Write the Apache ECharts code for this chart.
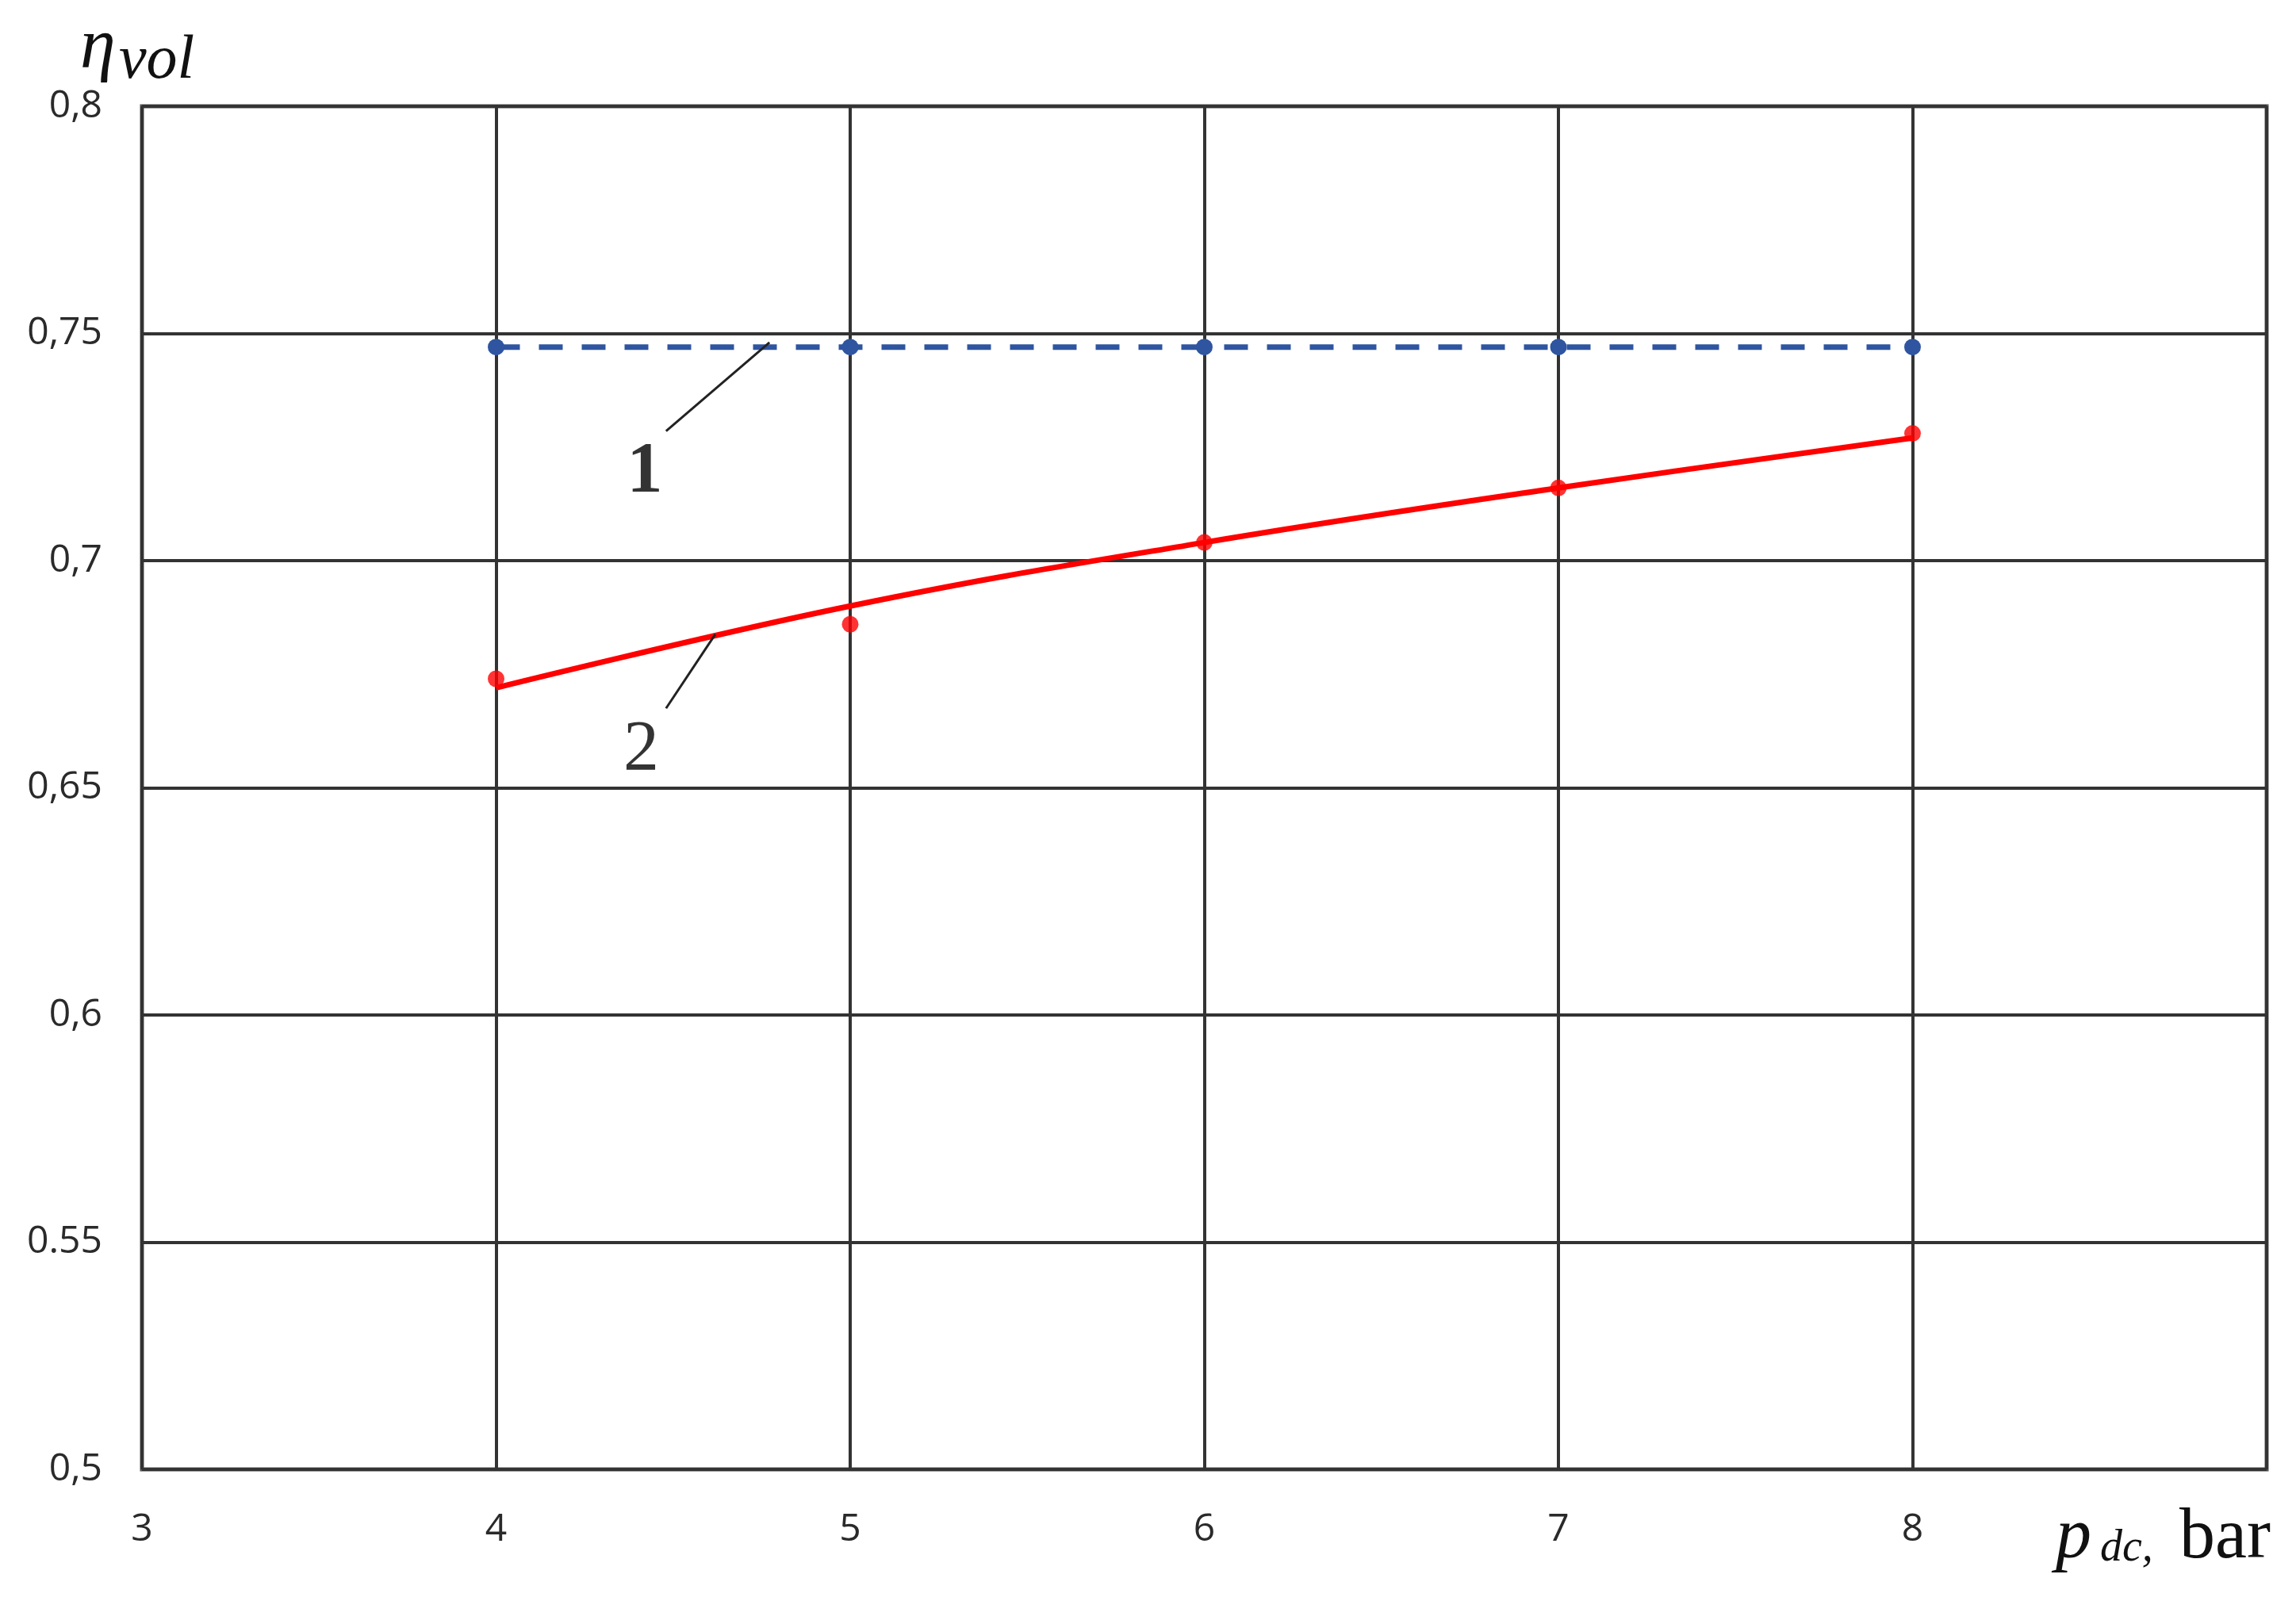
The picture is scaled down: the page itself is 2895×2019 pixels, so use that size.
<!DOCTYPE html>
<html>
<head>
<meta charset="utf-8">
<title>eta_vol vs p_dc</title>
<script src="https://cdn.jsdelivr.net/npm/echarts@6/dist/echarts.min.js"></script>
<style>
  html, body { margin: 0; padding: 0; background: #fff; }
  #chart { width: 2895px; height: 2019px; }
</style>
</head>
<body>
<div id="chart"></div>
<script>
// values
const pressure = [4, 5, 6, 7, 8];
const etaTheory = [0.747, 0.747, 0.747, 0.747, 0.747];     // curve 1
const etaMeasured = [0.674, 0.686, 0.704, 0.716, 0.728];   // curve 2, points
const etaTrend = [0.672, 0.690, 0.704, 0.716, 0.727];      // curve 2, fitted line

const xTickLabels = ['3', '4', '5', '6', '7', '8', ''];
const yTickLabels = ['0,5', '0.55', '0,6', '0,65', '0,7', '0,75', '0,8'];

// callout numbers and their leader lines (data coordinates)
const calloutNames = ['1', '2'];
const calloutPos = [[4.42, 0.7192], [4.41, 0.6581]];
const leader1 = [[4.48, 0.7285], [4.772, 0.748]];
const leader2 = [[4.48, 0.6675], [4.619, 0.6838]];

const zip = (xs, ys) => xs.map((x, i) => [x, ys[i]]);

const chart = echarts.init(document.getElementById('chart'));

const serif = '"Liberation Serif", "DejaVu Serif", serif';
const sans = '"Open Sans", "Noto Sans", sans-serif';

chart.setOption({
  animation: false,
  backgroundColor: '#fff',
  grid: {
    left: 179, right: 37, top: 134, bottom: 166,
    show: true, borderColor: '#555', borderWidth: 5
  },
  xAxis: {
    type: 'value', min: 3, max: 9, interval: 1,
    axisLine: { show: false },
    axisTick: { show: false },
    splitLine: { show: true, lineStyle: { color: '#333', width: 4 } },
    axisLabel: {
      margin: 52, fontSize: 48, color: '#2a2a2a', fontFamily: sans,
      formatter: v => xTickLabels[Math.round(v - 3)]
    }
  },
  yAxis: {
    type: 'value', min: 0.5, max: 0.8, interval: 0.05,
    axisLine: { show: false },
    axisTick: { show: false },
    splitLine: { show: true, lineStyle: { color: '#333', width: 4 } },
    axisLabel: {
      margin: 50, fontSize: 48, color: '#2a2a2a', fontFamily: sans,
      formatter: v => yTickLabels[Math.round((v - 0.5) / 0.05)]
    }
  },
  series: [
    {
      name: '1', type: 'line', data: zip(pressure, etaTheory),
      symbol: 'circle', symbolSize: 21,
      itemStyle: { color: '#2f55a0' },
      lineStyle: { color: '#2f55a0', width: 7, type: [30, 24] },
      z: 4
    },
    {
      name: '2 trend', type: 'line', data: zip(pressure, etaTrend),
      smooth: 0.4, showSymbol: false,
      lineStyle: { color: '#ff0000', width: 7 },
      z: 3
    },
    {
      name: '2', type: 'scatter', data: zip(pressure, etaMeasured),
      symbolSize: 21, itemStyle: { color: '#ff0000' },
      z: 5
    },
    {
      name: 'leader 1', type: 'line', data: leader1, showSymbol: false,
      lineStyle: { color: '#222', width: 3 }, z: 6
    },
    {
      name: 'leader 2', type: 'line', data: leader2, showSymbol: false,
      lineStyle: { color: '#222', width: 3 }, z: 6
    },
    {
      name: 'callouts', type: 'scatter', symbolSize: 1,
      itemStyle: { color: 'rgba(0,0,0,0)' },
      data: calloutPos.map((p, i) => ({
        value: p, name: calloutNames[i],
        label: { fontWeight: i === 0 ? 'bold' : 'normal' }
      })),
      label: {
        show: true, position: 'inside', formatter: '{b}',
        fontFamily: serif, fontSize: 90, color: '#000'
      },
      z: 6
    }
  ],
  graphic: [
    // y axis name: eta_vol
    { type: 'text', left: 101, top: 16, style: {
      text: 'η', font: 'italic 90px ' + serif, fill: '#111' } },
    { type: 'text', left: 150, top: 38, style: {
      text: 'vol', font: 'italic 78px ' + serif, fill: '#111' } },
    // x axis name: p_dc, bar
    { type: 'text', left: 2592, top: 1895, style: {
      text: 'p', font: 'italic 90px ' + serif, fill: '#111' } },
    { type: 'text', left: 2648, top: 1925, style: {
      text: 'dc,', font: 'italic 56px ' + serif, fill: '#111' } },
    { type: 'text', left: 2748, top: 1895, style: {
      text: 'bar', font: '90px ' + serif, fill: '#111' } }
  ]
});

window.addEventListener('resize', () => chart.resize());
</script>
</body>
</html>
